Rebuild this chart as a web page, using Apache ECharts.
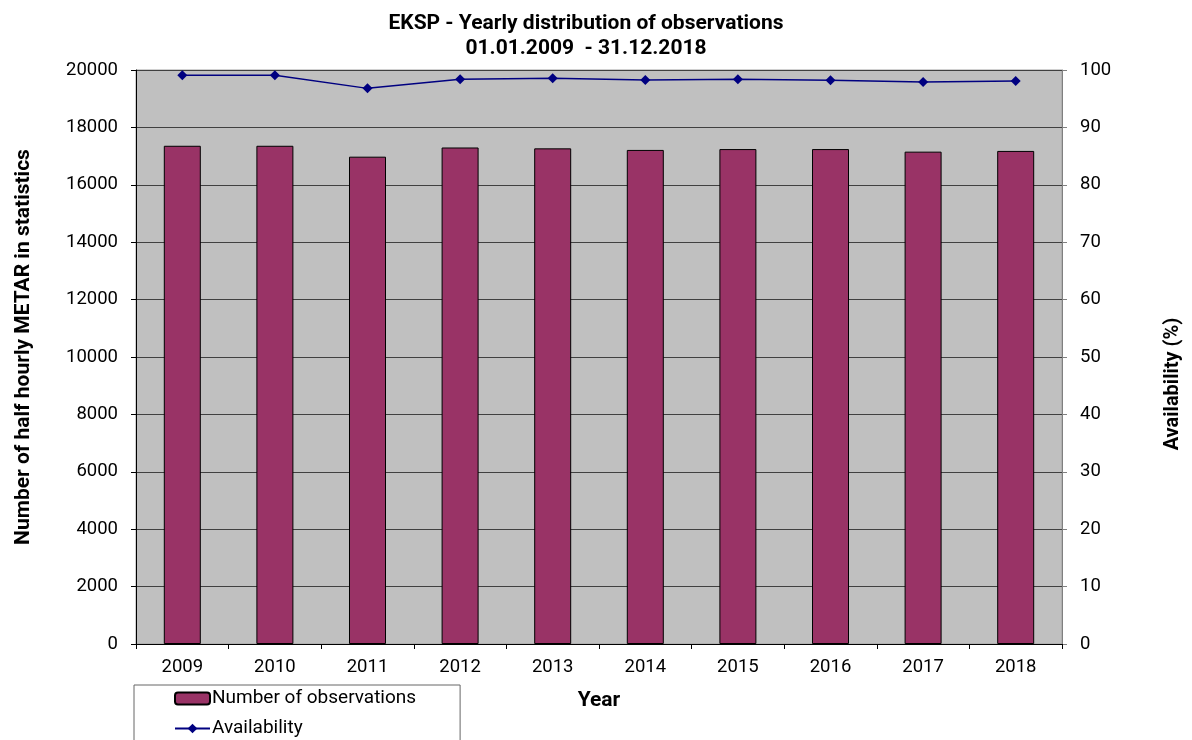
<!DOCTYPE html>
<html>
<head>
<meta charset="utf-8">
<script src="https://cdn.jsdelivr.net/npm/echarts@6/dist/echarts.min.js"></script>
<style>
html,body{margin:0;padding:0;background:#fff;}
#chart{width:1192px;height:740px;}
</style>
</head>
<body>
<div id="chart"></div>
<script>
const years = ['2009','2010','2011','2012','2013','2014','2015','2016','2017','2018'];
const observations = [17360, 17360, 16980, 17300, 17270, 17215, 17245, 17245, 17155, 17180];
const availability = [99.1, 99.1, 96.8, 98.4, 98.55, 98.25, 98.4, 98.2, 97.9, 98.1];
const leftTicks = [0, 2000, 4000, 6000, 8000, 10000, 12000, 14000, 16000, 18000, 20000];
const rightTicks = [0, 10, 20, 30, 40, 50, 60, 70, 80, 90, 100];

const FONT = 'Roboto';
const chart = echarts.init(document.getElementById('chart'));
chart.setOption({
  animation: false,
  backgroundColor: '#ffffff',
  textStyle: { fontFamily: FONT, color: '#000' },
  title: {
    text: 'EKSP - Yearly distribution of observations\n01.01.2009  - 31.12.2018',
    left: 581, top: 6, textAlign: 'center',
    textStyle: { fontFamily: FONT, fontSize: 21, fontWeight: 'bold', color: '#000', lineHeight: 25 }
  },
  grid: {
    left: 136, right: 130, top: 70, bottom: 96,
    show: true, backgroundColor: '#c0c0c0', borderColor: '#a0a0a0', borderWidth: 1
  },
  legend: {
    orient: 'vertical', left: 134, top: 685, height: 140,
    padding: [4, 44, 20, 40], itemGap: 11, itemWidth: 35, itemHeight: 12,
    borderColor: '#666', borderWidth: 1, selectedMode: false,
    textStyle: { fontFamily: FONT, fontSize: 19, color: '#000', padding: [0,0,0,-3] },
    data: ['Number of observations', 'Availability']
  },
  xAxis: {
    type: 'category', data: years,
    name: 'Year', nameLocation: 'middle', nameGap: 46,
    nameTextStyle: { fontFamily: FONT, fontSize: 21, fontWeight: 'bold', color: '#000' },
    axisLine: { lineStyle: { color: '#000', width: 1 } },
    axisTick: { show: true, alignWithLabel: false, length: 5, lineStyle: { color: '#000' } },
    axisLabel: { fontFamily: FONT, fontSize: 18.5, color: '#000', margin: 14 }
  },
  yAxis: [
    {
      type: 'value', min: 0, max: 20000, interval: 2000, position: 'left',
      name: 'Number of half hourly METAR in statistics', nameLocation: 'middle', nameGap: 102,
      nameTextStyle: { fontFamily: FONT, fontSize: 21, fontWeight: 'bold', color: '#000', padding: [0, 0, 0, 20] },
      axisLine: { show: true, lineStyle: { color: '#000', width: 1 } },
      axisTick: { show: true, length: 5, lineStyle: { color: '#000' } },
      axisLabel: { fontFamily: FONT, fontSize: 18.5, color: '#000', margin: 18,
        formatter: v => leftTicks.includes(v) ? String(v) : '' },
      splitLine: { show: true, lineStyle: { color: '#404040', width: 1 } }
    },
    {
      type: 'value', min: 0, max: 100, interval: 10, position: 'right',
      name: 'Availability (%)', nameLocation: 'middle', nameGap: 101,
      nameTextStyle: { fontFamily: FONT, fontSize: 20, fontWeight: 'bold', color: '#000', padding: [0, 54, 0, 0] },
      axisLine: { show: true, lineStyle: { color: '#808080', width: 1 } },
      axisTick: { show: true, length: 5, lineStyle: { color: '#808080' } },
      axisLabel: { fontFamily: FONT, fontSize: 18.5, color: '#000', margin: 18,
        formatter: v => rightTicks.includes(v) ? String(v) : '' },
      splitLine: { show: false }
    }
  ],
  series: [
    {
      name: 'Number of observations', type: 'bar', yAxisIndex: 0,
      data: observations, barWidth: 37,
      itemStyle: { color: '#993366', borderColor: '#000', borderWidth: 1 }
    },
    {
      name: 'Availability', type: 'line', yAxisIndex: 1,
      data: availability,
      symbol: 'diamond', symbolSize: 10,
      lineStyle: { color: '#000080', width: 1.5 },
      itemStyle: { color: '#000080' }
    }
  ]
});
</script>
</body>
</html>
